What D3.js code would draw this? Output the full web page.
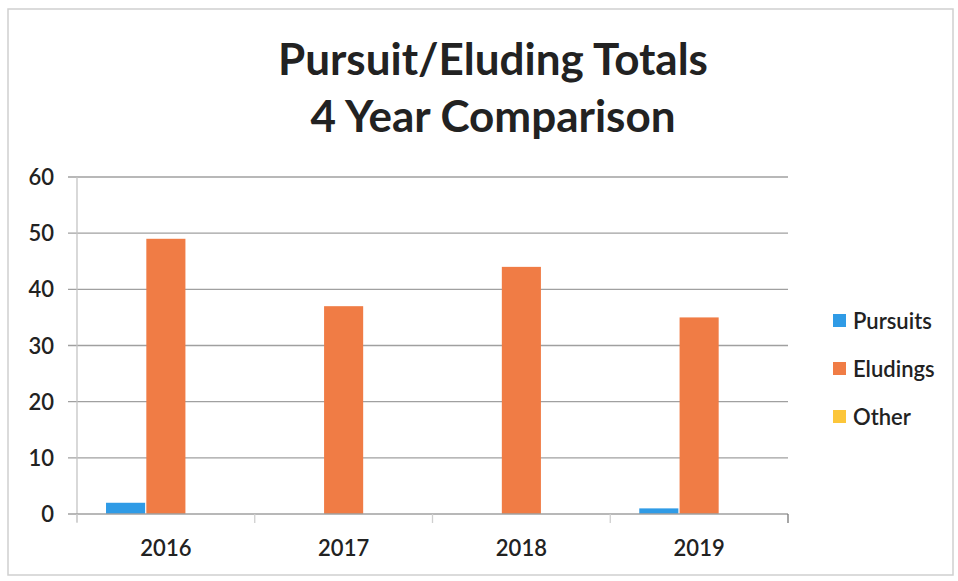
<!DOCTYPE html>
<html>
<head>
<meta charset="utf-8">
<script src="https://cdn.jsdelivr.net/npm/d3@7"></script>
<style>
  body { margin: 0; background: #fff; }
  svg { display: block; }
  text { font-family: "Lato", "Open Sans", sans-serif; fill: #222; }
</style>
</head>
<body>
<svg id="chart" width="958" height="581"></svg>
<script>
// Yearly totals by incident type
const years = ["2016", "2017", "2018", "2019"];
const seriesNames = ["Pursuits", "Eludings", "Other"];
const pursuits = [2, 0, 0, 1];
const eludings = [49, 37, 44, 35];
const other = [0, 0, 0, 0];
const yTicks = [0, 10, 20, 30, 40, 50, 60];
const titleLines = ["Pursuit/Eluding Totals", "4 Year Comparison"];

const colors = { Pursuits: "#2f9be6", Eludings: "#f07c45", Other: "#fcc63a" };
const seriesValues = { Pursuits: pursuits, Eludings: eludings, Other: other };

const svg = d3.select("#chart");
const plot = { left: 77, right: 788, top: 177, bottom: 514 };
const axisColor = "#a0a0a0";

// Outer chart frame
svg.append("rect")
  .attr("x", 8).attr("y", 9).attr("width", 945).attr("height", 566)
  .attr("fill", "none").attr("stroke", "#cfcfcf").attr("stroke-width", 1.5);

// Title
svg.append("g").selectAll("text").data(titleLines).join("text")
  .attr("x", 493).attr("y", (d, i) => 75 + i * 57)
  .attr("text-anchor", "middle")
  .attr("font-size", 44).attr("font-weight", 700)
  .text(d => d);

const x0 = d3.scaleBand().domain(years)
  .range([plot.left, plot.right]).paddingInner(0).paddingOuter(0);
const x1 = d3.scaleBand().domain(seriesNames)
  .range([0, x0.bandwidth()]).paddingInner(0.03).paddingOuter(0.72);
const y = d3.scaleLinear().domain([0, 60]).range([plot.bottom, plot.top]);

// Horizontal gridlines, starting at the outside tick mark
svg.append("g").selectAll("line").data(yTicks.filter(t => t > 0)).join("line")
  .attr("x1", plot.left - 9).attr("x2", plot.right)
  .attr("y1", d => y(d)).attr("y2", d => y(d))
  .attr("stroke", axisColor).attr("stroke-width", 1.3);

// Value axis line
svg.append("line")
  .attr("x1", plot.left).attr("x2", plot.left)
  .attr("y1", y(60)).attr("y2", y(0) + 8)
  .attr("stroke", "#c4c4c4").attr("stroke-width", 1.3);

// Y axis labels
svg.append("g").selectAll("text").data(yTicks).join("text")
  .attr("x", 54).attr("y", d => y(d) + 8)
  .attr("text-anchor", "end").attr("font-size", 22).attr("font-weight", 600)
  .text(d => d);

// Bars
const groups = svg.append("g").selectAll("g").data(years).join("g")
  .attr("transform", d => `translate(${x0(d)},0)`);
groups.selectAll("rect")
  .data((yr, i) => seriesNames.map(s => ({ s, v: seriesValues[s][i] })))
  .join("rect")
  .attr("x", d => x1(d.s)).attr("width", x1.bandwidth())
  .attr("y", d => y(d.v)).attr("height", d => y(0) - y(d.v))
  .attr("fill", d => colors[d.s]);

// Category axis
const xAxis = svg.append("g")
  .attr("transform", `translate(0,${y(0)})`)
  .call(d3.axisBottom(x0).tickSize(0).tickPadding(26));
xAxis.select(".domain").attr("stroke", axisColor).attr("stroke-width", 1.3)
  .attr("d", `M${plot.left - 9},0H${plot.right}`);
xAxis.selectAll("text").attr("font-size", 22).attr("fill", "#222")
  .attr("font-family", "Lato, 'Open Sans', sans-serif").attr("font-weight", 600);
xAxis.selectAll(".sep").data(d3.range(years.length + 1)).join("line")
  .attr("class", "sep")
  .attr("x1", i => plot.left + i * x0.bandwidth())
  .attr("x2", i => plot.left + i * x0.bandwidth())
  .attr("y1", 0).attr("y2", 9)
  .attr("stroke", i => i === years.length ? "#777" : "#cfcfcf").attr("stroke-width", 1.3);

// Legend
const legend = svg.append("g").selectAll("g").data(seriesNames).join("g")
  .attr("transform", (d, i) => `translate(833,${321 + i * 48})`);
legend.append("rect")
  .attr("x", 0).attr("y", -7).attr("width", 13).attr("height", 13)
  .attr("fill", d => colors[d]);
legend.append("text")
  .attr("x", 20).attr("y", 7.5).attr("font-size", 22).attr("font-weight", 600)
  .text(d => d);
</script>
</body>
</html>
